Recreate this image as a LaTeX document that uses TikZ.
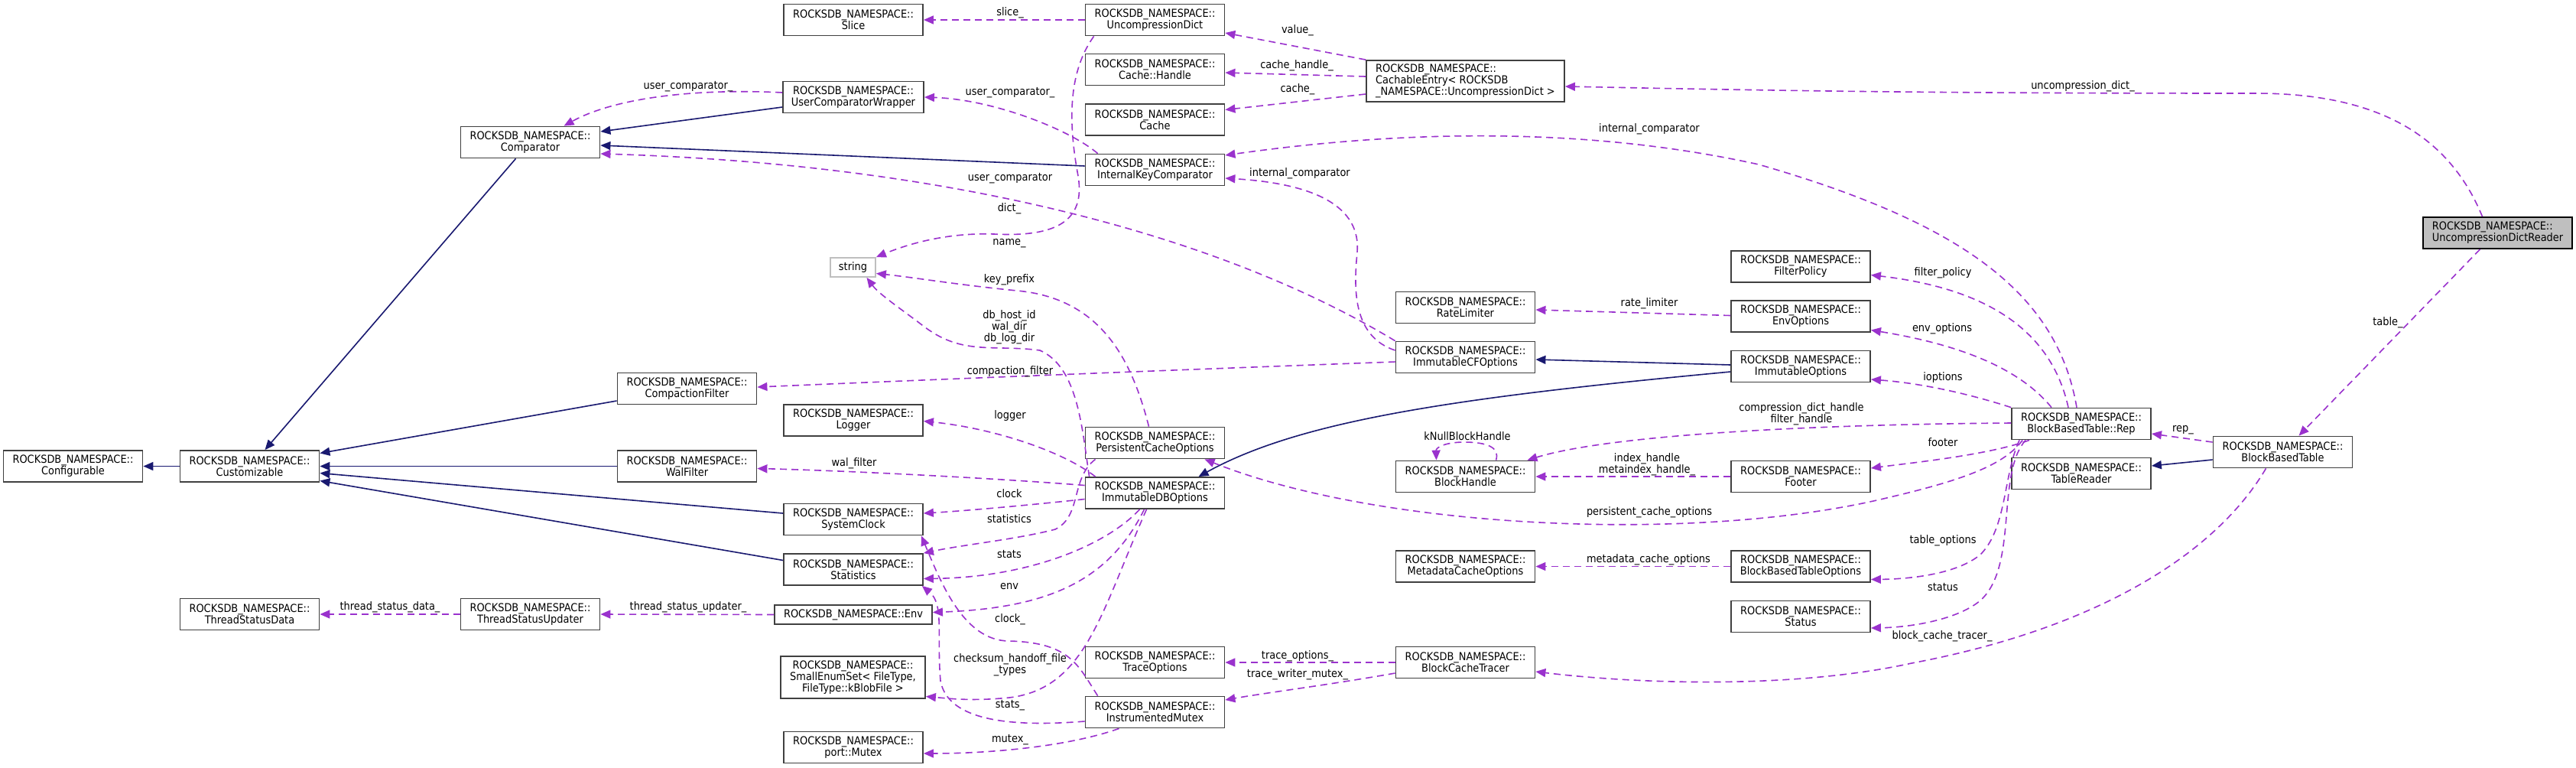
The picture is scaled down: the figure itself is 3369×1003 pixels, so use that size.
\documentclass[tikz,border=0pt]{standalone}
\usepackage{fontspec}
\setmainfont{DejaVu Sans Condensed}
\usetikzlibrary{arrows.meta,calc}
\definecolor{epurple}{HTML}{9A32CD}
\definecolor{iblue}{HTML}{191970}
\definecolor{bordergray}{HTML}{404040}
\definecolor{lgray}{HTML}{BFBFBF}
\newcommand{\dfont}{\fontsize{7.2}{7.5}\selectfont}
\newcommand{\RN}{ROCKSDB\_NAMESPACE::}
\begin{document}
\begin{tikzpicture}[x=0.5pt,y=-0.5pt,
 cls/.style={draw=bordergray, fill=white, line width=0.9pt, minimum width=91pt, minimum height=20.5pt, inner sep=0pt, align=center, font=\dfont},
 use/.style={draw=epurple, line width=0.8pt, dash pattern=on 4.5pt off 3pt, -{Triangle[length=6.5pt,width=5.5pt]}},
 inh/.style={draw=iblue, line width=0.8pt, -{Triangle[length=6.5pt,width=5.5pt]}},
 lbl/.style={font=\dfont, inner sep=0pt, align=center},
]
\useasboundingbox[fill=white] (0,0) rectangle (3369,1003);

% nodes
\node[cls] (cfg) at (95.5,609.5) {\RN\\Configurable};
\node[cls] (cust) at (326.5,609.5) {\RN\\Customizable};
\node[cls] (tsd) at (326.5,803) {\RN\\ThreadStatusData};
\node[cls] (cmp) at (693.5,186) {\RN\\Comparator};
\node[cls] (tsu) at (693.5,803) {\RN\\ThreadStatusUpdater};
\node[cls] (cf) at (898.5,508) {\RN\\CompactionFilter};
\node[cls] (wal) at (898.5,609.5) {\RN\\WalFilter};
\node[cls] (slice) at (1116,26) {\RN\\Slice};
\node[cls, minimum width=92pt] (ucw) at (1116,127) {\RN\\UserComparatorWrapper};
\node[cls, draw=lgray, minimum width=29.5pt, minimum height=12.5pt] (str) at (1115.5,349.5) {string};
\node[cls] (logger) at (1116,549.5) {\RN\\Logger};
\node[cls] (sc) at (1116,679) {\RN\\SystemClock};
\node[cls] (stat) at (1116,744.5) {\RN\\Statistics};
\node[cls, minimum width=103pt, minimum height=12.5pt] (env) at (1116,803.5) {\RN Env};
\node[cls, minimum width=94.5pt, minimum height=27.5pt] (ses) at (1115.5,885.5) {\RN\\SmallEnumSet< FileType,\\FileType::kBlobFile >};
\node[cls] (pm) at (1116,977) {\RN\\port::Mutex};
\node[cls] (ud) at (1510.5,26) {\RN\\UncompressionDict};
\node[cls] (ch) at (1510.5,91) {\RN\\Cache::Handle};
\node[cls] (cache) at (1510.5,156.5) {\RN\\Cache};
\node[cls] (ikc) at (1510.5,222) {\RN\\InternalKeyComparator};
\node[cls] (pco) at (1510.5,579) {\RN\\PersistentCacheOptions};
\node[cls] (idbo) at (1510.5,644.5) {\RN\\ImmutableDBOptions};
\node[cls] (to) at (1510.5,866) {\RN\\TraceOptions};
\node[cls] (im) at (1510.5,931) {\RN\\InstrumentedMutex};
\node[cls, minimum width=129.5pt, minimum height=27pt, align=left] (ce) at (1916.5,106) {\RN\\CachableEntry< ROCKSDB\\\_NAMESPACE::UncompressionDict >};
\node[cls] (rl) at (1916.5,402) {\RN\\RateLimiter};
\node[cls] (icfo) at (1916.5,467) {\RN\\ImmutableCFOptions};
\node[cls] (bh) at (1916.5,623) {\RN\\BlockHandle};
\node[cls] (mco) at (1916.5,740.5) {\RN\\MetadataCacheOptions};
\node[cls] (bct) at (1916.5,866) {\RN\\BlockCacheTracer};
\node[cls] (fp) at (2355,348.5) {\RN\\FilterPolicy};
\node[cls] (eo) at (2355,413.5) {\RN\\EnvOptions};
\node[cls] (io) at (2355,479) {\RN\\ImmutableOptions};
\node[cls] (footer) at (2355,623) {\RN\\Footer};
\node[cls] (bbto) at (2355,740.5) {\RN\\BlockBasedTableOptions};
\node[cls] (status) at (2355,806) {\RN\\Status};
\node[cls] (rep) at (2722,554) {\RN\\BlockBasedTable::Rep};
\node[cls] (tr) at (2722,619) {\RN\\TableReader};
\node[cls] (bbt) at (2985.5,591) {\RN\\BlockBasedTable};
\node[cls, fill=lgray, draw=black, minimum width=97.5pt, align=left] (udr) at (3266.5,304.5) {\RN\\UncompressionDictReader};

% inheritance
\draw[inh] (cust.west) -- (cfg.east);
\draw[inh] ($(cmp.south)+(-19,0)$) -- ($(cust.north)+(20,0)$);
\draw[inh] ($(cf.west)+(0,16)$) -- ($(cust.east)+(0,-17)$);
\draw[inh] (wal.west) -- (cust.east);
\draw[inh] ($(sc.west)+(0,-8)$) -- ($(cust.east)+(0,9)$);
\draw[inh] ($(stat.west)+(0,-12)$) -- ($(cust.east)+(0,19)$);
\draw[inh] ($(ucw.west)+(0,13)$) -- ($(cmp.east)+(0,-14)$);
\draw[inh] ($(ikc.west)+(0,-5)$) -- ($(cmp.east)+(0,4)$);
\draw[inh] ($(io.west)+(0,-2)$) -- ($(icfo.east)+(0,3)$);
\draw[inh] ($(io.west)+(0,7)$) .. controls (1900,520) and (1700,550) .. ($(idbo.north)+(57,0)$);
\draw[inh] ($(bbt.west)+(0,10)$) -- ($(tr.east)+(0,-10)$);

% usage
\draw[use] (ud.west) -- (slice.east);
\draw[use] ($(ud.south west)+(12,0)$) .. controls (1400,90) and (1395,150) .. (1410,230) .. controls (1420,290) and (1380,310) .. (1300,306) .. controls (1240,304) and (1190,318) .. (str.north east);
\draw[use] (ce.north west) -- ($(ud.east)+(0,17)$);
\draw[use] ($(ce.west)+(0,-6)$) -- ($(ch.east)+(0,4)$);
\draw[use] ($(ce.west)+(0,17)$) -- ($(cache.east)+(0,-13)$);
\draw[use] ($(ucw.west)+(0,-6)$) .. controls (900,115) and (800,130) .. ($(cmp.north)+(44,0)$);
\draw[use] ($(ikc.north west)+(17,0)$) .. controls (1400,170) and (1300,130) .. (ucw.east);
\draw[use] (icfo.north west) .. controls (1600,310) and (1250,215) .. ($(cmp.east)+(0,15)$);
\draw[use] ($(icfo.west)+(0,-9)$) .. controls (1770,440) and (1770,380) .. (1775,330) .. controls (1780,270) and (1720,240) .. ($(ikc.east)+(0,11)$);
\draw[use] ($(rep.north)+(-6,0)$) .. controls (2690,380) and (2560,290) .. (2300,215) .. controls (2050,160) and (1800,175) .. ($(ikc.east)+(0,-19)$);
\draw[use] ($(udr.north)+(-20,0)$) .. controls (3200,170) and (3100,122) .. (2950,122) .. controls (2500,122) and (2300,118) .. ($(ce.east)+(0,7)$);
\draw[use] ($(udr.south)+(-23,0)$) -- ($(bbt.north)+(21,0)$);
\draw[use] ($(bbt.west)+(0,-13)$) -- ($(rep.east)+(0,13)$);
\draw[use] ($(bbt.south)+(-22,0)$) .. controls (2900,720) and (2750,820) .. (2500,867) .. controls (2350,900) and (2150,895) .. ($(bct.east)+(0,12)$);
\draw[use] ($(rep.north)+(-17,0)$) .. controls (2680,420) and (2580,375) .. ($(fp.east)+(0,11)$);
\draw[use] ($(rep.north)+(-39,0)$) .. controls (2640,480) and (2560,450) .. ($(eo.east)+(0,18)$);
\draw[use] (rep.north west) .. controls (2560,510) and (2500,500) .. ($(io.east)+(0,17)$);
\draw[use] ($(rep.west)+(0,-1)$) .. controls (2350,555) and (2100,570) .. ($(bh.north east)+(-11,0)$);
\draw[use] ($(rep.south west)+(24,0)$) .. controls (2600,595) and (2500,605) .. ($(footer.east)+(0,-11)$);
\draw[use] ($(rep.south west)+(15,0)$) .. controls (2620,610) and (2560,630) .. (2450,655) .. controls (2200,710) and (1800,690) .. ($(pco.south)+(65,0)$);
\draw[use] ($(rep.south west)+(11,0)$) .. controls (2620,620) and (2625,690) .. (2590,725) .. controls (2560,750) and (2500,757) .. ($(bbto.east)+(0,17)$);
\draw[use] ($(rep.south west)+(19,0)$) .. controls (2610,620) and (2640,740) .. (2590,785) .. controls (2560,810) and (2500,820) .. ($(status.east)+(0,15)$);
\draw[use] ($(eo.west)+(0,-1)$) -- ($(rl.east)+(0,3)$);
\draw[use] (footer.west) -- (bh.east);
\draw[use] ($(bh.north)+(40,0)$) .. controls (1962,585) and (1945,578) .. (1915,578) .. controls (1890,578) and (1878,585) .. ($(bh.north)+(-38,0)$);
\draw[use] (bbto.west) -- (mco.east);
\draw[use] ($(icfo.west)+(0,6)$) .. controls (1500,485) and (1200,497) .. ($(cf.east)+(0,-2)$);
\draw[use] ($(pco.north)+(-8,0)$) .. controls (1480,470) and (1440,390) .. (1330,380) .. controls (1250,372) and (1190,362) .. ($(str.east)+(0,8)$);
\draw[use] ($(idbo.north west)+(6,0)$) .. controls (1415,560) and (1410,480) .. (1360,458) .. controls (1300,450) and (1260,465) .. (1210,428) .. controls (1180,405) and (1150,385) .. ($(str.south)+(18,0)$);
\draw[use] ($(idbo.north west)+(14,0)$) .. controls (1390,590) and (1300,560) .. ($(logger.east)+(0,1)$);
\draw[use] ($(idbo.west)+(0,-10)$) .. controls (1300,625) and (1100,615) .. ($(wal.east)+(0,3)$);
\draw[use] ($(idbo.west)+(0,8)$) .. controls (1350,660) and (1260,668) .. ($(sc.east)+(0,-8)$);
\draw[use] ($(pco.south west)+(14,0)$) .. controls (1400,625) and (1415,675) .. (1380,692) .. controls (1330,705) and (1260,712) .. (stat.north east);
\draw[use] ($(idbo.south)+(-20,0)$) .. controls (1450,710) and (1350,755) .. ($(stat.east)+(0,12)$);
\draw[use] ($(idbo.south)+(-14,0)$) .. controls (1450,760) and (1370,795) .. ($(env.east)+(0,-3)$);
\draw[use] ($(idbo.south)+(-11,0)$) .. controls (1440,800) and (1420,900) .. (1320,912) .. controls (1270,917) and (1240,913) .. ($(ses.east)+(0,25)$);
\draw[use] ($(im.north west)+(17,0)$) .. controls (1410,870) and (1400,840) .. (1320,838) .. controls (1260,838) and (1230,760) .. ($(sc.south east)+(-3,0)$);
\draw[use] ($(im.west)+(0,12)$) .. controls (1330,950) and (1240,945) .. (1230,890) .. controls (1225,830) and (1235,790) .. ($(stat.south east)+(-2,0)$);
\draw[use] ($(im.south)+(-47,0)$) .. controls (1400,975) and (1300,985) .. ($(pm.east)+(0,8)$);
\draw[use] (env.west) -- (tsu.east);
\draw[use] (tsu.west) -- (tsd.east);
\draw[use] (bct.west) -- (to.east);
\draw[use] ($(bct.west)+(0,14)$) .. controls (1740,895) and (1660,905) .. ($(im.east)+(0,-16)$);

% labels
\node[lbl] (lslice) at (1321,17) {slice\_};
\node[lbl] (ldict) at (1320,273) {dict\_};
\node[lbl] (lvalue) at (1697,40) {value\_};
\node[lbl] (lch) at (1696,86) {cache\_handle\_};
\node[lbl] (lcache) at (1697,117) {cache\_};
\node[lbl] (lucw) at (900,113) {user\_comparator\_};
\node[lbl] (likcucw) at (1321,121) {user\_comparator\_};
\node[lbl] (luc) at (1321,233) {user\_comparator};
\node[lbl] (licA) at (1700,227) {internal\_comparator};
\node[lbl] (licB) at (2157,169) {internal\_comparator};
\node[lbl] (lud) at (2724,113) {uncompression\_dict\_};
\node[lbl] (ltable) at (3123,422) {table\_};
\node[lbl] (lrep) at (2855,562) {rep\_};
\node[lbl] (lbct) at (2540,832) {block\_cache\_tracer\_};
\node[lbl] (lfp) at (2541,357) {filter\_policy};
\node[lbl] (leo) at (2540,430) {env\_options};
\node[lbl] (lio) at (2541,494) {ioptions};
\node[lbl] (lcdh) at (2356,541) {compression\_dict\_handle\\filter\_handle};
\node[lbl] (lfooter) at (2541,578) {footer};
\node[lbl] (lpco) at (2157,670) {persistent\_cache\_options};
\node[lbl] (lto) at (2541,707) {table\_options};
\node[lbl] (lstatus) at (2541,768) {status};
\node[lbl] (lrl) at (2157,397) {rate\_limiter};
\node[lbl] (lih) at (2154,607) {index\_handle\\metaindex\_handle\_};
\node[lbl] (lknull) at (1919,570) {kNullBlockHandle};
\node[lbl] (lmco) at (2156,732) {metadata\_cache\_options};
\node[lbl] (lcf) at (1321,486) {compaction\_filter};
\node[lbl] (lkp) at (1320,366) {key\_prefix};
\node[lbl] (ldb) at (1320,428) {db\_host\_id\\wal\_dir\\db\_log\_dir};
\node[lbl] (lname) at (1320,318) {name\_};
\node[lbl] (llogger) at (1321,544) {logger};
\node[lbl] (lwal) at (1117,606) {wal\_filter};
\node[lbl] (lclock) at (1320,645) {clock};
\node[lbl] (lstatistics) at (1320,678) {statistics};
\node[lbl] (lstats) at (1320,725) {stats};
\node[lbl] (lenv) at (1320,767) {env};
\node[lbl] (lchk) at (1321,869) {checksum\_handoff\_file\\\_types};
\node[lbl] (lclockB) at (1321,810) {clock\_};
\node[lbl] (lstatsB) at (1321,922) {stats\_};
\node[lbl] (lmutex) at (1321,967) {mutex\_};
\node[lbl] (ltsu) at (900,794) {thread\_status\_updater\_};
\node[lbl] (ltsd) at (510,794) {thread\_status\_data\_};
\node[lbl] (ltrace) at (1697,858) {trace\_options\_};
\node[lbl] (ltwm) at (1697,882) {trace\_writer\_mutex\_};
\end{tikzpicture}
\end{document}
